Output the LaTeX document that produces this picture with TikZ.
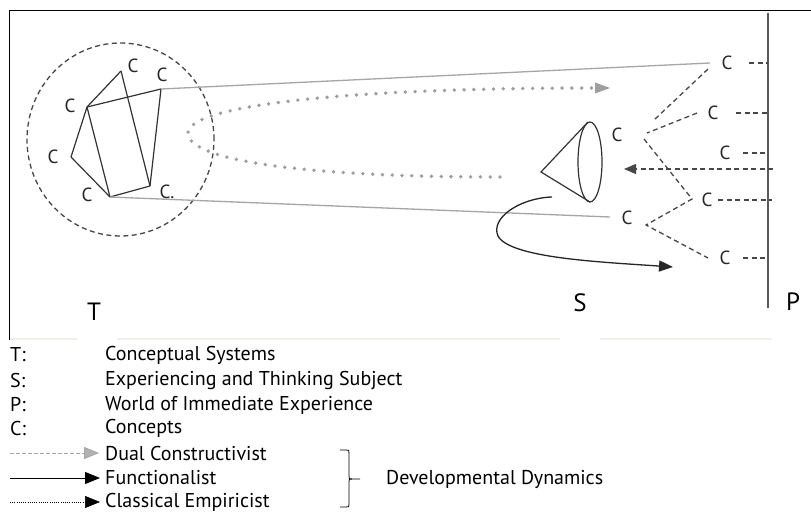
\documentclass[tikz,border=0pt]{standalone}
\usepackage{fontspec}
\setmainfont{PT Sans}
\usetikzlibrary{arrows.meta}
\begin{document}
\begin{tikzpicture}[x=1pt,y=-1pt,
  lab/.style={font=\fontsize{19}{22}\selectfont, inner sep=0pt, text=black!85},
  big/.style={font=\fontsize{25}{28}\selectfont, inner sep=0pt},
  leg/.style={font=\fontsize{20}{24}\selectfont, inner sep=0pt, anchor=west},
  poly/.style={draw=black!80, line width=1.2pt},
  grayline/.style={draw=black!35, line width=1.3pt},
  dashline/.style={draw=black!72, line width=1.3pt, dash pattern=on 5pt off 3.5pt},
  dotgray/.style={draw=black!38, line width=3.8pt, line cap=round, dash pattern=on 0pt off 9.8pt},
  tipk/.style={-{Triangle[length=14pt,width=11pt]}},
]
\useasboundingbox (0,0) rectangle (811,513);
\fill[white] (0,0) rectangle (811,513);
% frame
\draw[line width=1pt] (9,340) -- (9,11) -- (811,11);
\draw[color={rgb,255:red,240;green,240;blue,233}, line width=1.5pt]
  (10,339)--(77,339) (117,339)--(560,339) (600,339)--(772,339);
% circle of conceptual system
\draw[dashline] (120.5,139.5) ellipse [x radius=93.5pt, y radius=96.5pt];
\coordinate (vt) at (121,71);
\coordinate (vrt) at (161,89);
\coordinate (vl) at (87,107);
\coordinate (vll) at (71,157);
\coordinate (vb) at (110,197);
\coordinate (vrb) at (150,186);
\node[lab] (lt) at (133,66) {C};
\node[lab] (lrt) at (162,75) {C};
\node[lab] (ll) at (70,106) {C};
\node[lab] (lll) at (53,157) {C};
\node[lab] (lb) at (87,195) {C};
\node[lab] (lrb) at (167,192) {C.};
\draw[poly] (vt) -- (vl);
\draw[poly] (vt) -- (vrb);
\draw[poly] (vl) -- (vrt);
\draw[poly] (vrt) -- (vrb);
\draw[poly] (vl) -- (vb);
\draw[poly] (vl) -- (vll);
\draw[poly] (vll) -- (vb);
\draw[poly] (vb) -- (vrb);
% gray lines
\coordinate (g1) at (710,63);
\coordinate (g2) at (610,217);
\draw[grayline] (vrt) -- (g1);
\draw[grayline] (vb) -- (g2);
% dotted curve
\coordinate (d0) at (500,177);
\coordinate (d1) at (593,88);
\draw[dotgray] (d0) .. controls (300,177) and (188,160) .. (188,133) .. controls (188,105) and (350,88) .. (d1);
\fill[black!38] (610,88) -- (595,82.5) -- (595,93.5) -- cycle;
% cone
\draw[poly] (590,162) ellipse [x radius=12pt, y radius=40pt];
\draw[poly] (588,122) -- (541,172) -- (590,202);
% curved arrow
\coordinate (a0) at (552,197);
\coordinate (a1) at (673,267);
\draw[line width=1.3pt, black!85, tipk] (a0) .. controls (520,198) and (490,218) .. (498,236) .. controls (510,258) and (600,262) .. (a1);
% P line
\draw[line width=1.7pt, black!65] (768,13) -- (768,308);
% right C nodes
\node[lab] (c1) at (727,63) {C};
\node[lab] (c2) at (713,113) {C};
\node[lab] (c3) at (725,153) {C};
\node[lab] (c4) at (707,200) {C};
\node[lab] (c5) at (725,258) {C};
\node[lab] (cl) at (627,218) {C};
\node[lab] (cs) at (617,135) {C};
\draw[dashline] (749,63) -- (768,63);
\draw[dashline] (736,113) -- (768,113);
\draw[dashline] (743,153) -- (768,153);
\draw[dashline] (718,200) -- (772,200);
\draw[dashline] (743,258) -- (768,258);
\coordinate (e0) at (773,169);
\coordinate (e1) at (624,169);
\draw[dashline, -{Triangle[length=12pt,width=10pt]}] (e0) -- (e1);
% tree
\draw[dashline] (708,69) -- (654,120);
\draw[dashline] (697,113) -- (647,133);
\draw[dashline] (644,139) -- (692,199) -- (646,225) -- (708,258);
% big labels
\node[big] (T) at (94,312) {T};
\node[big] (S) at (580,303) {S};
\node[big] (P) at (793,302) {P};
% legend
\node[leg] (kT) at (10,355) {T:};
\node[leg] (kS) at (10,380) {S:};
\node[leg] (kP) at (10,405) {P:};
\node[leg] (kC) at (10,428) {C:};
\node[leg] (tT) at (105,355) {Conceptual Systems};
\node[leg] (tS) at (105,380) {Experiencing and Thinking Subject};
\node[leg] (tP) at (105,405) {World of Immediate Experience};
\node[leg] (tC) at (105,428) {Concepts};
\node[leg] (tD) at (105,453) {Dual Constructivist};
\node[leg] (tF) at (105,478) {Functionalist};
\node[leg] (tE) at (105,502) {Classical Empiricist};
\coordinate (k1a) at (10,453); \coordinate (k1b) at (99,453);
\coordinate (k2a) at (10,478); \coordinate (k2b) at (100,478);
\coordinate (k3a) at (10,502); \coordinate (k3b) at (100,502);
\draw[black!35, line width=1pt, dash pattern=on 4pt off 2pt, -{Triangle[length=15pt,width=12pt,fill=black!30]}] (k1a) -- (k1b);
\draw[black, line width=1pt, -{Triangle[length=15pt,width=12pt]}] (k2a) -- (k2b);
\draw[black, line width=0.6pt, dash pattern=on 1pt off 1.2pt, -{Triangle[length=15pt,width=12pt]}] (k3a) -- (k3b);
% brace
\draw[line width=0.8pt] (340,450) -- (346,450) .. controls (349,450) .. (349,453) -- (349,476) .. controls (349,479) .. (352,479) -- (360,479);
\draw[line width=0.8pt] (352,479) .. controls (349,479) .. (349,482) -- (349,504) .. controls (349,507) .. (346,507) -- (340,507);
\node[leg] (dd) at (386,479) {Developmental Dynamics};
\end{tikzpicture}
\end{document}
